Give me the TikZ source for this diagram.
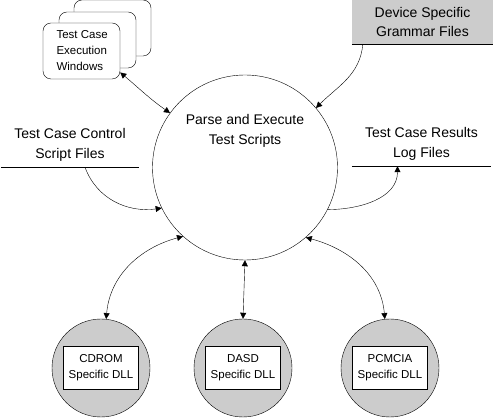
\documentclass[tikz,border=0pt]{standalone}
\usepackage{fontspec}
\setmainfont{Liberation Sans}
\usetikzlibrary{arrows.meta,positioning,calc}

\begin{document}
\begin{tikzpicture}[
   x=1pt,y=-1pt,
   every node/.style={font=\fontsize{14}{19.5}\selectfont},
   small/.style={font=\fontsize{11.5}{16}\selectfont},
   win/.style={draw,rounded corners=8pt,fill=white,minimum width=77pt,minimum height=56pt},
   dll/.style={draw,circle,fill=black!20,minimum size=98pt,inner sep=0pt},
   dllbox/.style={draw,fill=white,minimum width=75pt,minimum height=43pt,align=center,small},
   store/.style={minimum width=140pt,minimum height=44pt,align=center,inner sep=0pt},
   flow/.style={-{Triangle[length=6pt,width=6pt]}},
   bflow/.style={{Triangle[length=6pt,width=6pt]}-{Triangle[length=6pt,width=6pt]}}
]
\useasboundingbox (0,0) rectangle (493,419);

% =========== central process ============
\node[draw,circle,minimum size=185pt,inner sep=0pt] (parse) at (245,167.5) {};
\node[align=center] (parsetxt) at (245,131) {Parse and Execute\\Test Scripts};

% =========== execution windows (stacked) ============
\node[win] (win3) at (112.5,28) {};
\node[win] (win2) at (97.5,40) {};
\node[win] (win1) at (81.5,51) {};
\node[small,align=left,anchor=west] (wintxt) at (53,51) {Test Case\\Execution\\Windows};

% =========== data stores ============
\node[store,fill=black!20,minimum width=141pt] (gram) at (422.5,22) {Device Specific\\Grammar Files};
\draw (gram.south west) -- (gram.south east);

\node[store,minimum width=138pt] (ctl) at (70,145) {Test Case Control\\Script Files};
\draw (ctl.south west) -- (ctl.south east);

\node[store,minimum width=139pt] (log) at (421.5,144) {Test Case Results\\Log Files};
\draw (log.south west) -- (log.south east);

% =========== device DLLs ============
\node[dll] (cdrom) at (101,368) {};
\node[dllbox] (cdromtxt) at (cdrom) {CDROM\\Specific DLL};
\node[dll] (dasd) at (243,368) {};
\node[dllbox] (dasdtxt) at (dasd) {DASD\\Specific DLL};
\node[dll] (pcm) at (390,368) {};
\node[dllbox] (pcmtxt) at (pcm) {PCMCIA\\Specific DLL};

% =========== connectors ============
\draw[bflow] (win1.-29) to[out=-40,in=145] (parse.144);
\draw[flow] ($(gram.south west)+(11,0)$) to[out=-95,in=45] (parse.40);
\draw[flow] ($(ctl.south)+(15,0)$) to[out=-70,in=188] (parse.206);
\draw[flow] (parse.-27) to[out=0,in=-90] ($(log.south)+(-24,0)$);

\draw[bflow] (parse.228) to[out=195,in=85] (cdrom.84);
\draw[bflow] (parse.south) -- (dasd.north);
\draw[bflow] (parse.-49) to[out=-15,in=95] (pcm.96);

\end{tikzpicture}
\end{document}
